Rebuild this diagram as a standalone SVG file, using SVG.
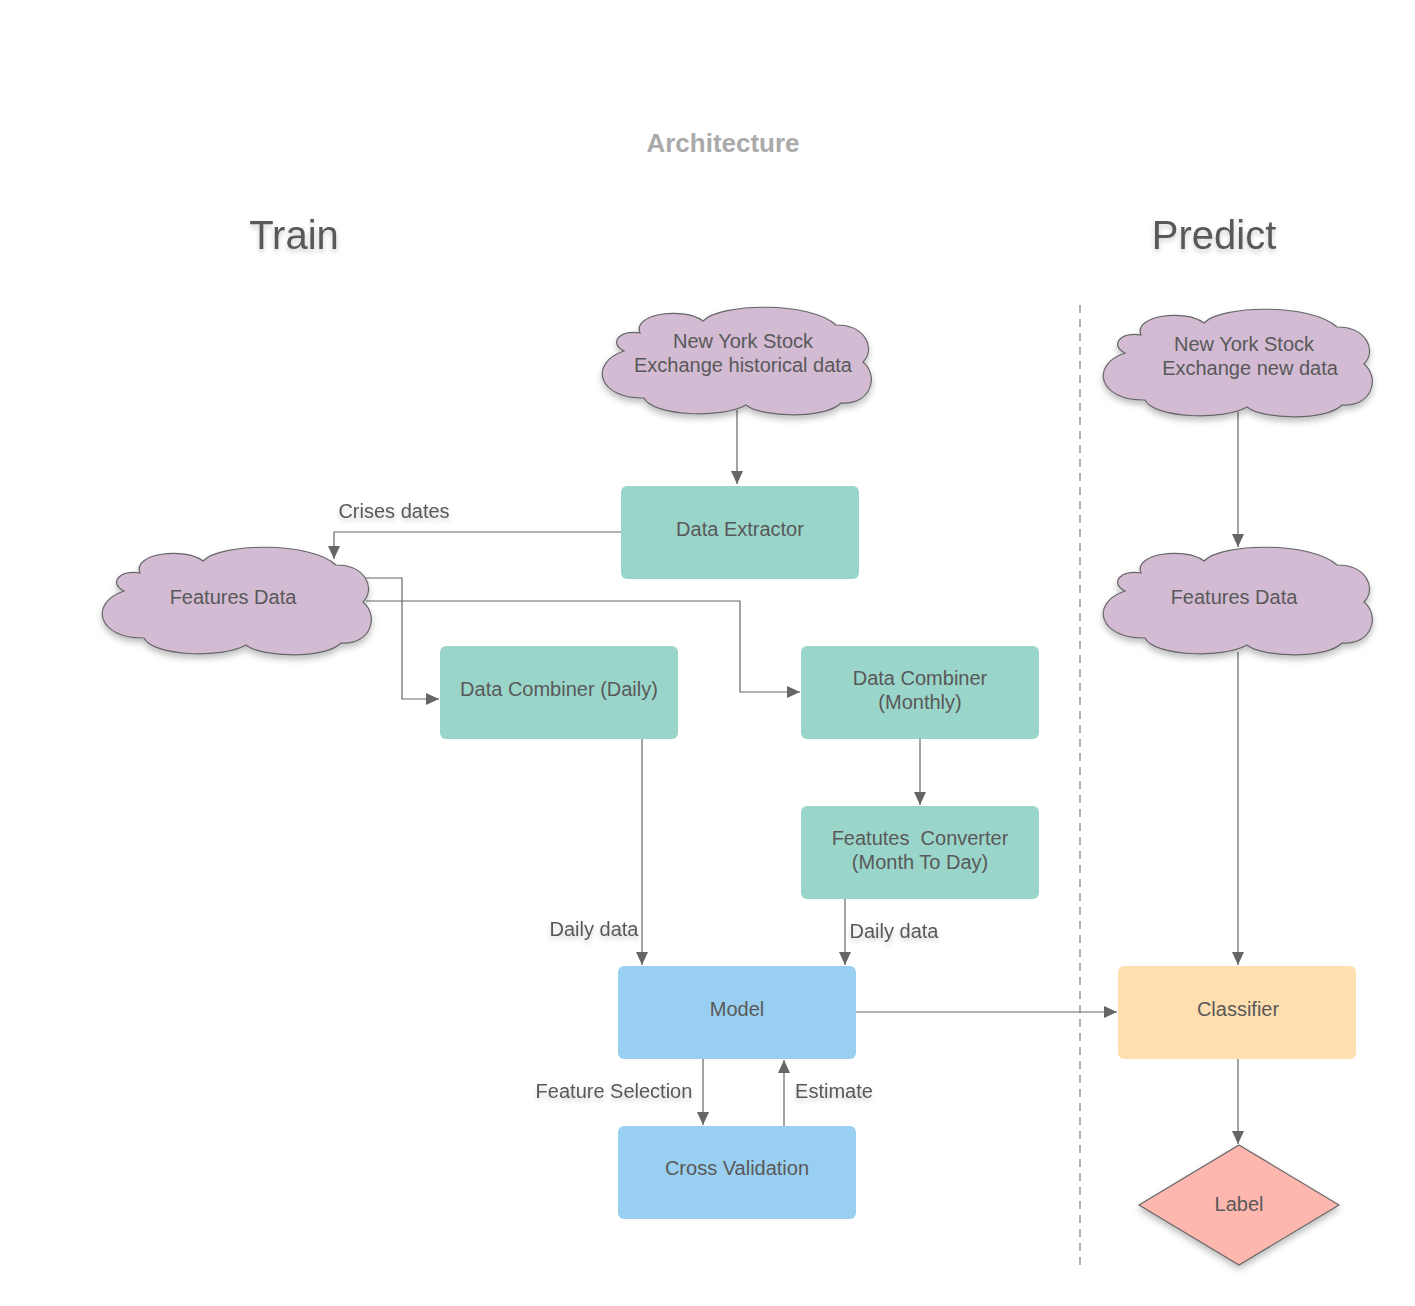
<svg xmlns="http://www.w3.org/2000/svg" width="1415" height="1306" viewBox="0 0 1415 1306">
<style>
text{font-family:"Liberation Sans",Arial,sans-serif;fill:#595959;}
.node{font-size:20px;text-anchor:middle;}
.lbl{font-size:20px;text-anchor:middle;filter:url(#tsh);}
.head{font-size:40px;text-anchor:middle;filter:url(#tsh);}
.conn{fill:none;stroke:#666;stroke-width:1.2;marker-end:url(#arr);}
.green{fill:#9ad5ca;}
.blue{fill:#99d0f1;}
.cloud{fill:#d2bbd3;stroke:#666;stroke-width:1.2;filter:url(#sh);}
</style>
<defs>
<marker id="arr" markerWidth="14" markerHeight="12" refX="13" refY="6" orient="auto" markerUnits="userSpaceOnUse">
<path d="M0,0 L13,6 L0,12 Z" fill="#666"/>
</marker>
<filter id="sh" x="-20%" y="-20%" width="140%" height="150%">
<feDropShadow dx="0" dy="4" stdDeviation="3" flood-color="#000" flood-opacity="0.25"/>
</filter>
<filter id="tsh" x="-20%" y="-30%" width="140%" height="170%">
<feDropShadow dx="0" dy="3" stdDeviation="2.5" flood-color="#000" flood-opacity="0.2"/>
</filter>
<path id="cloudp" d="M40,28 C32,8 85,2 103,16 C120,-2 210,-4 236,20 C266,20 276,44 263,57 C279,70 272,100 241,98 C226,114 162,113 146,100 C122,114 52,111 44,93 C-2,94 -12,58 24,46 C8,38 20,24 40,28 Z"/>
</defs>
<rect width="1415" height="1306" fill="#fff"/>

<text x="723" y="152" style="font-size:26px;font-weight:bold;fill:#aaaaaa;text-anchor:middle">Architecture</text>
<text class="head" x="294" y="249">Train</text>
<text class="head" x="1214" y="249">Predict</text>

<line x1="1080" y1="305" x2="1080" y2="1266" stroke="#666" stroke-width="1" stroke-dasharray="8,6"/>

<g id="connectors">
<path class="conn" d="M737,410 L737,484"/>
<path class="conn" d="M621,532 L334,532 L334,559"/>
<path class="conn" d="M366,578 L402,578 L402,699 L439,699"/>
<path class="conn" d="M366,601 L740,601 L740,692 L800,692"/>
<path class="conn" d="M920,739 L920,805"/>
<path class="conn" d="M642,739 L642,965"/>
<path class="conn" d="M845,899 L845,965"/>
<path class="conn" d="M856,1012 L1117,1012"/>
<path class="conn" d="M703,1059 L703,1125"/>
<path class="conn" d="M784,1126 L784,1060"/>
<path class="conn" d="M1238,412 L1238,547"/>
<path class="conn" d="M1238,652 L1238,965"/>
<path class="conn" d="M1238,1059 L1238,1144"/>
<text class="lbl" x="394" y="518">Crises dates</text>
<text class="lbl" x="594" y="936">Daily data</text>
<text class="lbl" x="894" y="938">Daily data</text>
<text class="lbl" x="614" y="1098">Feature Selection</text>
<text class="lbl" x="834" y="1098">Estimate</text>
</g>

<g id="nyse-historical">
<use href="#cloudp" class="cloud" transform="translate(600,305)"/>
<text class="node" x="743" y="348">New York Stock</text>
<text class="node" x="743" y="372">Exchange historical data</text>
</g>
<g id="data-extractor">
<rect class="green" x="621" y="486" width="238" height="93" rx="6"/>
<text class="node" x="740" y="536">Data Extractor</text>
</g>
<g id="features-data-train">
<use href="#cloudp" class="cloud" transform="translate(100,545)"/>
<text class="node" x="233" y="604">Features Data</text>
</g>
<g id="data-combiner-daily">
<rect class="green" x="440" y="646" width="238" height="93" rx="6"/>
<text class="node" x="559" y="696">Data Combiner (Daily)</text>
</g>
<g id="data-combiner-monthly">
<rect class="green" x="801" y="646" width="238" height="93" rx="6"/>
<text class="node" x="920" y="685">Data Combiner</text>
<text class="node" x="920" y="709">(Monthly)</text>
</g>
<g id="features-converter">
<rect class="green" x="801" y="806" width="238" height="93" rx="6"/>
<text class="node" x="920" y="845" xml:space="preserve">Featutes  Converter</text>
<text class="node" x="920" y="869">(Month To Day)</text>
</g>
<g id="model">
<rect class="blue" x="618" y="966" width="238" height="93" rx="6"/>
<text class="node" x="737" y="1016">Model</text>
</g>
<g id="cross-validation">
<rect class="blue" x="618" y="1126" width="238" height="93" rx="6"/>
<text class="node" x="737" y="1175">Cross Validation</text>
</g>
<g id="nyse-new">
<use href="#cloudp" class="cloud" transform="translate(1101,307)"/>
<text class="node" x="1244" y="351">New York Stock</text>
<text class="node" x="1250" y="375">Exchange new data</text>
</g>
<g id="features-data-predict">
<use href="#cloudp" class="cloud" transform="translate(1101,545)"/>
<text class="node" x="1234" y="604">Features Data</text>
</g>
<g id="classifier">
<rect x="1118" y="966" width="238" height="93" rx="6" fill="#ffdfb0"/>
<text class="node" x="1238" y="1016">Classifier</text>
</g>
<g id="label">
<path d="M1239,1145 L1339,1205 L1239,1265 L1139,1205 Z" fill="#fdb7ae" stroke="#666" stroke-width="1.2" filter="url(#sh)"/>
<text class="node" x="1239" y="1211">Label</text>
</g>
</svg>
